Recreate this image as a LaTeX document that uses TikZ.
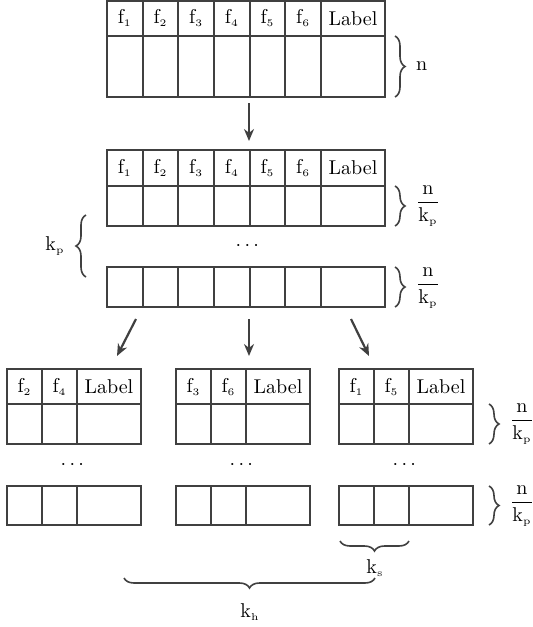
\documentclass[tikz,border=0pt]{standalone}
\usepackage{amsmath}
\usepackage{tikz}
\usetikzlibrary{arrows.meta,decorations.pathreplacing}

\begin{document}
\begin{tikzpicture}[x=0.5pt,y=-0.5pt,
	grid/.style={draw=black!75,line width=1pt},
	brc/.style={draw=black!75,line width=0.8pt,decorate,decoration={brace,amplitude=5pt}},
	arr/.style={draw=black!75,line width=1.1pt,-{Stealth[length=6pt,width=5pt]}}]
	\useasboundingbox (0,0) rectangle (533,627);

	% first table
	\draw[grid] (107,1) rectangle (385,97);
	\draw[grid] (107,36) -- (385,36);
	\foreach \i in {1,...,6} {
		\draw[grid] ({107+35.67*\i},1) -- ({107+35.67*\i},97);
		\node (a\i) at ({107+35.67*\i-17.83},18.5) {$\mathrm{f}_{\scriptscriptstyle \i}$};
	}
	\node (alab) at (353,18.5) {Label};
	\draw[brc] (395,36) -- (395,97);
	\node[anchor=west] (n0) at (409,66) {n};

	% second table
	\draw[grid] (107,150) rectangle (385,226);
	\draw[grid] (107,186) -- (385,186);
	\draw[grid] (107,267) rectangle (385,307);
	\foreach \i in {1,...,6} {
		\draw[grid] ({107+35.67*\i},150) -- ({107+35.67*\i},226);
		\draw[grid] ({107+35.67*\i},267) -- ({107+35.67*\i},307);
		\node (b\i) at ({107+35.67*\i-17.83},168) {$\mathrm{f}_{\scriptscriptstyle \i}$};
	}
	\node (blab) at (353,168) {Label};
	\node (bdots) at (249,246) {$\cdots$};
	\draw[brc] (395,186) -- (395,226);
	\node[anchor=west] (n1) at (409,206) {$\dfrac{\mathrm{n}}{\mathrm{k}_{\scriptscriptstyle\mathrm{p}}}$};
	\draw[brc] (395,267) -- (395,307);
	\node[anchor=west] (n2) at (409,288) {$\dfrac{\mathrm{n}}{\mathrm{k}_{\scriptscriptstyle\mathrm{p}}}$};
	\draw[brc] (86,277) -- (86,215);
	\node (kp) at (55,246) {$\mathrm{k}_{\scriptscriptstyle\mathrm{p}}$};

	% arrows
	\coordinate (s0) at (249,103);
	\coordinate (e0) at (249,141);
	\coordinate (s1) at (136,319);
	\coordinate (e1) at (117,356);
	\coordinate (s2) at (249,319);
	\coordinate (e2) at (249,356);
	\coordinate (s3) at (351,319);
	\coordinate (e3) at (369,356);
	\draw[arr] (s0) -- (e0);
	\draw[arr] (s1) -- (e1);
	\draw[arr] (s2) -- (e2);
	\draw[arr] (s3) -- (e3);

	% small tables
	\foreach \x/\p/\q/\k in {7/2/4/1,176/3/6/2,339/1/5/3} {
		\draw[grid] (\x,369) rectangle ({\x+134},444);
		\draw[grid] (\x,404) -- ({\x+134},404);
		\draw[grid] (\x,486) rectangle ({\x+134},525);
		\draw[grid] ({\x+35},369) -- ({\x+35},444);
		\draw[grid] ({\x+70},369) -- ({\x+70},444);
		\draw[grid] ({\x+35},486) -- ({\x+35},525);
		\draw[grid] ({\x+70},486) -- ({\x+70},525);
		\node (c\k p) at ({\x+17.5},387) {$\mathrm{f}_{\scriptscriptstyle \p}$};
		\node (c\k q) at ({\x+52.5},387) {$\mathrm{f}_{\scriptscriptstyle \q}$};
		\node (c\k lab) at ({\x+102},387) {Label};
		\node (c\k dots) at ({\x+67},465) {$\cdots$};
	}
	\draw[brc] (489,404) -- (489,444);
	\node[anchor=west] (n3) at (503,424) {$\dfrac{\mathrm{n}}{\mathrm{k}_{\scriptscriptstyle\mathrm{p}}}$};
	\draw[brc] (489,486) -- (489,525);
	\node[anchor=west] (n4) at (503,506) {$\dfrac{\mathrm{n}}{\mathrm{k}_{\scriptscriptstyle\mathrm{p}}}$};

	% bottom braces
	\draw[brc] (409,541) -- (340,541);
	\node (ks) at (375,568) {$\mathrm{k}_{\scriptscriptstyle\mathrm{s}}$};
	\draw[brc] (375,578) -- (124,578);
	\node (kh) at (250,612) {$\mathrm{k}_{\scriptscriptstyle\mathrm{h}}$};
\end{tikzpicture}
\end{document}
